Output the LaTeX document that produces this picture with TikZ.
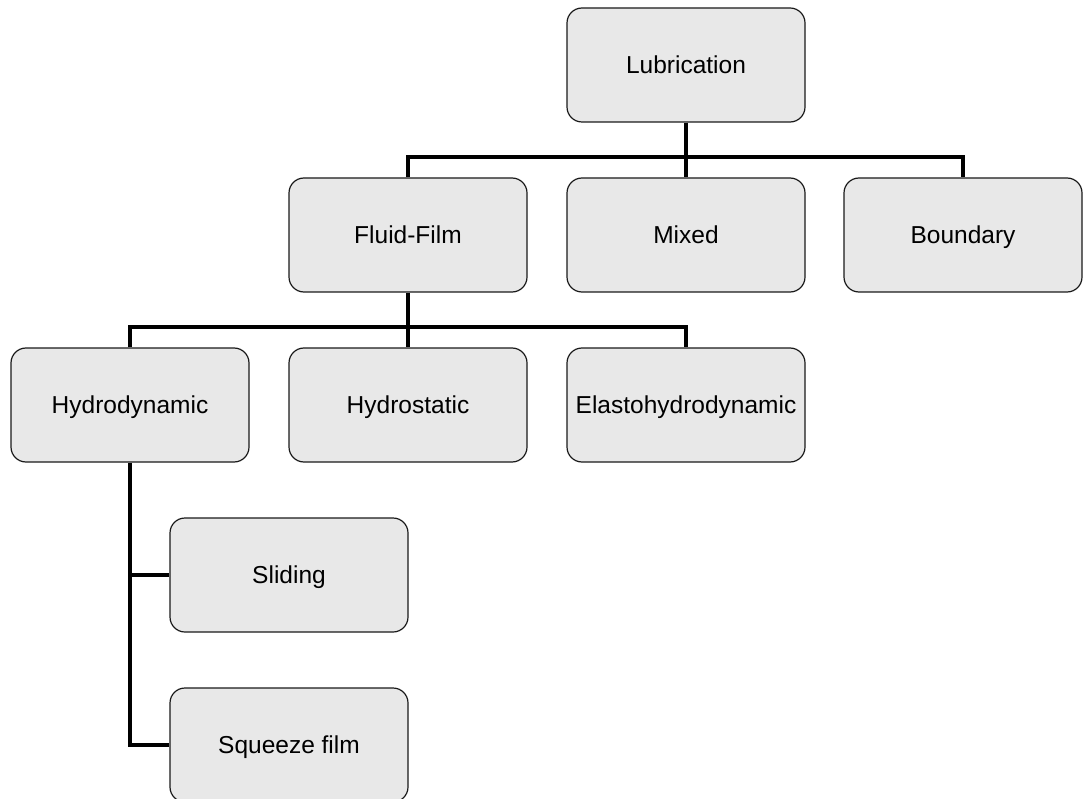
\documentclass[tikz,border=0pt]{standalone}
\usepackage{fontspec}
\setmainfont{Liberation Sans}
\definecolor{boxfill}{HTML}{E8E8E8}
\definecolor{boxline}{HTML}{1A1A1A}
\begin{document}
\begin{tikzpicture}[x=1pt,y=-1pt,
  box/.style={draw=boxline, fill=boxfill, line width=1.2pt, rounded corners=15pt,
    minimum width=238pt, minimum height=114pt, inner sep=0pt,
    text height=17.5pt, text depth=0pt, font=\fontsize{24.5}{28}\selectfont},
  link/.style={draw=black, line width=4pt}]
\useasboundingbox (0,0) rectangle (1083,799);
\node[box] (lub) at (686,65) {Lubrication};
\node[box] (ff) at (408,235) {Fluid-Film};
\node[box] (mix) at (686,235) {Mixed};
\node[box] (bnd) at (963,235) {Boundary};
\node[box] (hyd) at (130,405) {Hydrodynamic};
\node[box] (hst) at (408,405) {Hydrostatic};
\node[box] (ehd) at (686,405) {Elastohydrodynamic};
\node[box] (sl) at (289,575) {Sliding};
\node[box] (sq) at (289,745) {Squeeze film};
% connectors
\coordinate (j1) at (686,157);
\coordinate (j2) at (408,327);
\draw[link] (lub.south) -- (j1);
\draw[link] (ff.north) |- (j1) -| (bnd.north);
\draw[link] (j1) -- (mix.north);
\draw[link] (ff.south) -- (j2);
\draw[link] (hyd.north) |- (j2) -| (ehd.north);
\draw[link] (j2) -- (hst.north);
\draw[link] (hyd.south) |- (sq.west);
\draw[link] (hyd.south |- sl.west) -- (sl.west);
\end{tikzpicture}
\end{document}
